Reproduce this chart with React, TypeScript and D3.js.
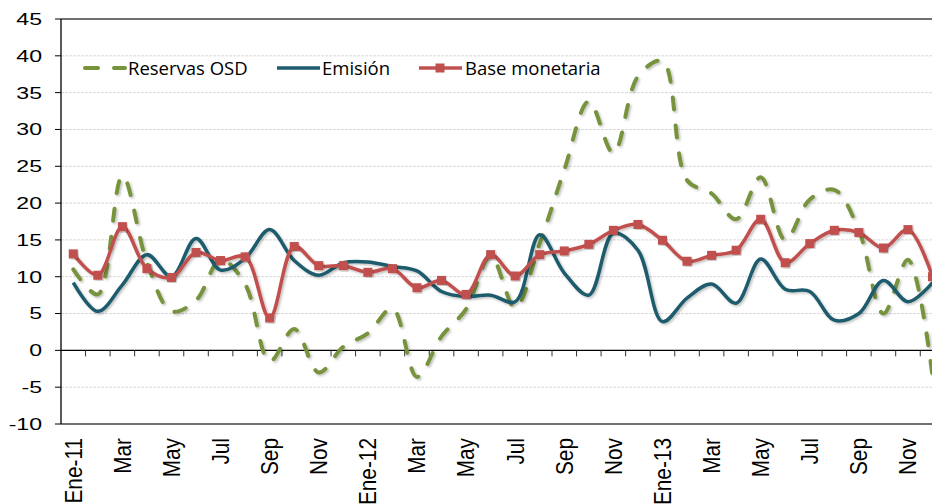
import React from "react";
import * as d3 from "d3";

const months = [
  "Ene-11", "Feb", "Mar", "Abr", "May", "Jun", "Jul", "Ago", "Sep", "Oct", "Nov", "Dic",
  "Ene-12", "Feb ", "Mar ", "Abr ", "May ", "Jun ", "Jul ", "Ago ", "Sep ", "Oct ", "Nov ", "Dic ",
  "Ene-13", "Feb  ", "Mar  ", "Abr  ", "May  ", "Jun  ", "Jul  ", "Ago  ", "Sep  ", "Oct  ", "Nov  ", "Dic  ",
];

const reservasOSD = [
  11.0, 7.6, 23.7, 12.0, 5.3, 6.8, 12.3, 9.0, -1.5, 2.9, -3.0, 0.5,
  2.3, 5.7, -3.6, 1.9, 5.6, 12.8, 5.8, 14.5, 24.5, 33.8, 26.8, 37.2,
  39.3, 23.1, 21.3, 17.8, 23.5, 15.0, 20.5, 21.8, 16.3, 5.0, 12.3, -3.5,
];

const emision = [
  9.2, 5.3, 8.9, 13.0, 10.0, 15.2, 10.9, 12.5, 16.4, 12.2, 10.2, 11.9,
  12.0, 11.4, 10.8, 8.0, 7.3, 7.5, 6.6, 15.7, 10.5, 7.5, 15.9, 13.6,
  3.9, 7.1, 9.0, 6.4, 12.4, 8.3, 8.0, 4.1, 5.0, 9.5, 6.6, 9.2,
];

const baseMonetaria = [
  13.1, 10.2, 16.8, 11.1, 9.9, 13.3, 12.2, 12.7, 4.4, 14.1, 11.5, 11.5,
  10.6, 11.1, 8.5, 9.5, 7.6, 13.0, 10.1, 13.0, 13.5, 14.4, 16.3, 17.1,
  14.95, 12.1, 12.9, 13.6, 17.8, 11.9, 14.5, 16.3, 16.0, 13.9, 16.4, 10.0,
];

const yTicks = [-10, -5, 0, 5, 10, 15, 20, 25, 30, 35, 40, 45];

const W = 932;
const H = 504;
const left = 61;
const bandW = 24.55;
const top = 19;
const bottom = 424;

const GREEN = "#77933C";
const BLUE = "#1F5B6C";
const RED = "#C0504D";

export default function App() {
  const x = d3
    .scaleBand<string>()
    .domain(months)
    .range([left, left + bandW * months.length])
    .padding(0);
  const y = d3.scaleLinear().domain([-10, 45]).range([bottom, top]);
  const cx = (i: number) => (x(months[i]) as number) + x.bandwidth() / 2;

  const line = d3
    .line<number>()
    .x((_, i) => cx(i))
    .y((d) => y(d))
    .curve(d3.curveCatmullRom.alpha(0.5));

  const right = left + bandW * months.length;
  const axisFont = "'Liberation Sans', Arial, sans-serif";

  return (
    <svg
      width={W}
      height={H}
      style={{ position: "absolute", left: 0, top: 0, background: "#fff" }}
    >
      <defs>
        <filter id="sh" x="-10%" y="-10%" width="120%" height="120%">
          <feDropShadow dx="1.5" dy="1.5" stdDeviation="1.2" floodColor="#000" floodOpacity="0.25" />
        </filter>
      </defs>
      {/* gridlines */}
      {yTicks
        .filter((t) => t !== 0 && t !== -10 && t !== 45)
        .map((t) => (
          <line
            key={"g" + t}
            x1={left}
            x2={right}
            y1={y(t)}
            y2={y(t)}
            stroke="#d9d9d9"
            strokeWidth={1}
            strokeDasharray="3 1"
          />
        ))}
      {/* frame */}
      <line x1={left} x2={right} y1={y(45)} y2={y(45)} stroke="#404040" strokeWidth={1.5} />
      <line x1={left} x2={right} y1={y(-10)} y2={y(-10)} stroke="#404040" strokeWidth={1.5} />
      <line x1={left} x2={left} y1={y(45)} y2={y(-10)} stroke="#000" strokeWidth={1.3} />
      {/* y ticks and labels */}
      {yTicks.map((t) => (
        <g key={"y" + t}>
          <line x1={left - 6} x2={left} y1={y(t)} y2={y(t)} stroke="#000" strokeWidth={1} />
          <text
            transform={`translate(42,${y(t)}) scale(1.4,1)`}
            dy="0.36em"
            textAnchor="end"
            fontFamily={axisFont}
            fontSize={16.5}
            fill="#000"
          >
            {t}
          </text>
        </g>
      ))}
      {/* zero axis */}
      <line x1={left} x2={right} y1={y(0)} y2={y(0)} stroke="#000" strokeWidth={1.3} />
      {months.map((m, i) =>
        i === 0 ? null : (
          <line
            key={"xt" + i}
            x1={x(m) as number}
            x2={x(m) as number}
            y1={y(0)}
            y2={y(0) + 6}
            stroke="#333"
            strokeWidth={1}
          />
        )
      )}
      {/* x labels */}
      {months.map((m, i) =>
        i % 2 === 0 ? (
          <text
            key={"xl" + i}
            transform={`translate(${cx(i)},438) scale(1.12,1) rotate(-90)`}
            dy="0.36em"
            textAnchor="end"
            fontFamily={axisFont}
            fontSize={20.8}
            fill="#000"
          >
            {m.trim()}
          </text>
        ) : null
      )}
      {/* series */}
      <path
        d={line(reservasOSD) || ""}
        fill="none"
        stroke={GREEN}
        strokeWidth={4}
        strokeDasharray="12 16"
        strokeLinecap="round"
        filter="url(#sh)"
      />
      <path
        d={line(emision) || ""}
        fill="none"
        stroke={BLUE}
        strokeWidth={3.5}
        filter="url(#sh)"
      />
      <path
        d={line(baseMonetaria) || ""}
        fill="none"
        stroke={RED}
        strokeWidth={3.5}
        filter="url(#sh)"
      />
      {baseMonetaria.map((v, i) => (
        <rect
          key={"m" + i}
          x={cx(i) - 4.5}
          y={y(v) - 4.5}
          width={9}
          height={9}
          fill={RED}
          filter="url(#sh)"
        />
      ))}
      {/* legend */}
      <g fontFamily="'Open Sans', sans-serif" fontSize={18.5} fill="#000">
        <line x1={85} x2={125} y1={68} y2={68} stroke={GREEN} strokeWidth={4} strokeDasharray="13 16" strokeLinecap="round" />
        <text x={128} y={68} dy="0.36em">Reservas OSD</text>
        <line x1={277} x2={320} y1={68} y2={68} stroke={BLUE} strokeWidth={3.5} />
        <text x={322} y={68} dy="0.36em">Emisión</text>
        <line x1={419} x2={462} y1={68} y2={68} stroke={RED} strokeWidth={3.5} />
        <rect x={435.5} y={63.5} width={9} height={9} fill={RED} />
        <text x={465} y={68} dy="0.36em">Base monetaria</text>
      </g>
    </svg>
  );
}
